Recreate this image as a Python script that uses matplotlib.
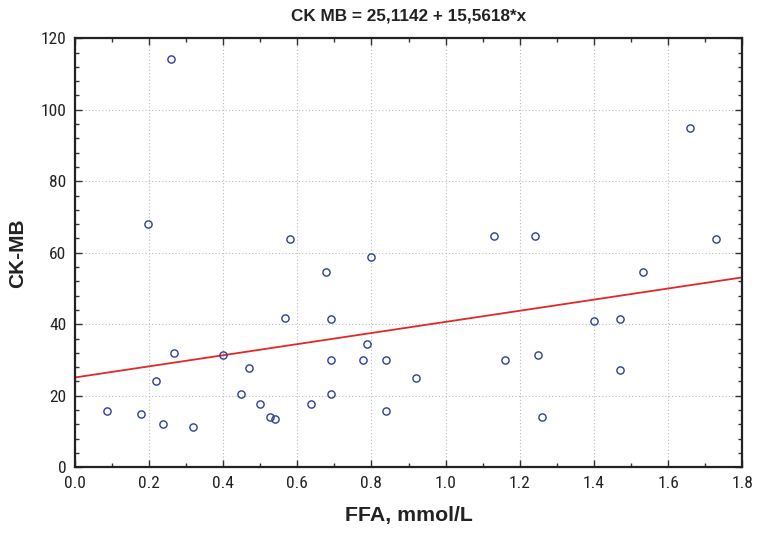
import matplotlib
matplotlib.use("Agg")
import matplotlib.pyplot as plt
import numpy as np
from matplotlib.ticker import MultipleLocator

ffa = [0.259, 0.198, 0.580, 1.658, 1.131, 1.241, 1.728,
       0.800, 0.677, 0.567, 0.690, 0.268, 0.400, 0.787, 0.690, 0.778, 0.840,
       0.470, 0.919, 0.219, 0.448, 0.690, 0.088, 0.180, 0.500, 0.638, 0.840,
       0.237, 0.320, 0.527, 0.541,
       1.532, 1.399, 1.469, 1.161, 1.250, 1.469, 1.259]
ckmb = [114.1, 68.0, 63.9, 94.9, 64.8, 64.8, 63.9,
        58.8, 54.7, 41.8, 41.5, 31.9, 31.4, 34.6, 30.0, 30.0, 30.0,
        27.8, 25.1, 24.1, 20.4, 20.4, 15.8, 14.9, 17.7, 17.7, 15.8,
        12.2, 11.3, 14.0, 13.5,
        54.7, 41.0, 41.5, 30.0, 31.4, 27.3, 14.0]
intercept = 25.1142
slope = 15.5618
title = "CK MB = 25,1142 + 15,5618*x"
xlabel = "FFA, mmol/L"
ylabel = "CK-MB"
xticks = [0.0, 0.2, 0.4, 0.6, 0.8, 1.0, 1.2, 1.4, 1.6, 1.8]
xticklabels = ["0.0", "0.2", "0.4", "0.6", "0.8", "1.0", "1.2", "1.4", "1.6", "1.8"]

narrow = ["Roboto Condensed", "Archivo Narrow", "Liberation Sans", "DejaVu Sans"]
arial = ["Liberation Sans", "DejaVu Sans"]

fig = plt.figure(figsize=(7.63, 5.37), dpi=100)
ax = fig.add_axes([0.0979, 0.1298, 0.8750, 0.7989])

xl = np.array([0.0, 1.8])
ax.plot(xl, intercept + slope * xl, color="#e32626", lw=1.3, zorder=2)
ax.plot(ffa, ckmb, ls="none", marker="o", ms=5.2, mfc="none", mec="#2e3f9a",
        mew=1.0, zorder=3)

ax.set_xlim(0, 1.8)
ax.set_ylim(0, 120)
ax.set_xticks(xticks)
ax.set_xticklabels(xticklabels)
ax.xaxis.set_minor_locator(MultipleLocator(0.1))
ax.yaxis.set_major_locator(MultipleLocator(20))
ax.yaxis.set_minor_locator(MultipleLocator(4))
ax.tick_params(which="both", direction="in", top=True, right=True,
               color="#333333")
ax.tick_params(which="major", length=5, width=1, labelsize=12.5, pad=6)
ax.tick_params(which="minor", length=3, width=1)
for lab in ax.get_xticklabels() + ax.get_yticklabels():
    lab.set_fontfamily(narrow)
    lab.set_color("#222222")
ax.grid(True, which="major", color="#bbbbbb", ls=(0, (1, 2)), lw=0.8)
for s in ax.spines.values():
    s.set_linewidth(1.6)
    s.set_color("#222222")

fig.text(0.535, 0.970, title, ha="center", va="center", fontsize=12.3,
         fontweight="bold", family=arial, color="#222222")
ax.set_xlabel(xlabel, fontsize=15.3, fontweight="bold", family=arial,
              color="#222222", va="center")
ax.xaxis.set_label_coords(0.5, -0.1135)
ax.set_ylabel(ylabel, fontsize=15, fontweight="bold", family=arial,
              color="#222222", va="center")
ax.yaxis.set_label_coords(-0.085, 0.5)

fig.savefig("out.png", dpi=100)
